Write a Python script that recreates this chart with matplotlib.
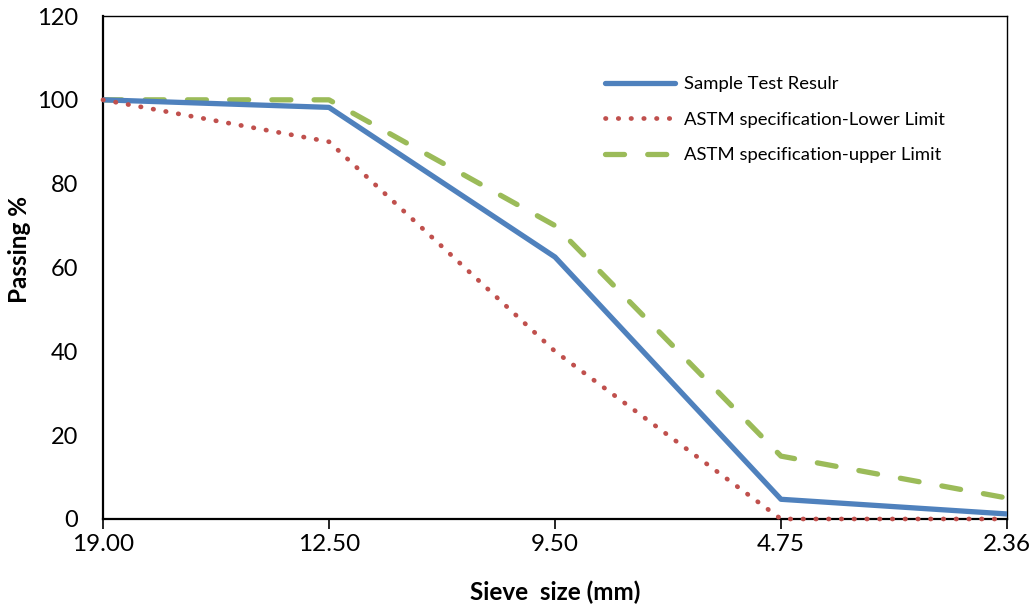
import matplotlib
matplotlib.use('Agg')
import matplotlib.pyplot as plt

# sieve sizes (mm) and percent passing
sieve_sizes = ['19.00', '12.50', '9.50', '4.75', '2.36']
sample_result = [100, 98.2, 62.5, 4.7, 1.2]
lower_limit = [100, 90, 40, 0, 0]
upper_limit = [100, 100, 70, 15, 5]

plt.rcParams['font.family'] = ['Lato', 'DejaVu Sans']

fig = plt.figure(figsize=(10.36, 6.11), dpi=100)
ax = fig.add_axes([0.0994, 0.1506, 0.8726, 0.8232])

x = range(len(sieve_sizes))
ax.plot(x, sample_result, color='#4F81BD', lw=3.8, solid_capstyle='round',
        label='Sample Test Resulr', zorder=3)
ax.plot(x, lower_limit, color='#C0504D', lw=3.4, linestyle=(0, (0.1, 2.6)),
        dash_capstyle='round', label='ASTM specification-Lower Limit',
        zorder=4, clip_on=False)
ax.plot(x, upper_limit, color='#9BBB59', lw=3.8, linestyle=(0, (3.6, 4.4)),
        dash_capstyle='round', label='ASTM specification-upper Limit', zorder=2)

ax.set_xlim(0, len(sieve_sizes) - 1)
ax.set_ylim(0, 120)
ax.set_xticks(list(x))
ax.set_xticklabels(sieve_sizes)
ax.set_yticks(range(0, 121, 20))
ax.tick_params(axis='y', length=0, pad=18, labelsize=17)
ax.tick_params(axis='x', length=7, width=1.2, direction='out', pad=4, labelsize=17.5)
for sp in ['left', 'bottom']:
    ax.spines[sp].set_linewidth(1.6)
for sp in ['top', 'right']:
    ax.spines[sp].set_linewidth(1.0)

ax.set_xlabel('Sieve  size (mm)', fontsize=17.5, fontweight='bold')
ax.set_ylabel('Passing %', fontsize=17.5, fontweight='bold')
ax.xaxis.set_label_coords(0.5, -0.122)
ax.yaxis.set_label_coords(-0.092, 0.535)
ax.yaxis.label.set_verticalalignment('center')

leg = ax.legend(loc='upper left', bbox_to_anchor=(0.537, 0.913), frameon=False,
                fontsize=13.3, handlelength=3.8, handletextpad=0.5, labelspacing=1.05)

fig.savefig('out.png', dpi=100)
